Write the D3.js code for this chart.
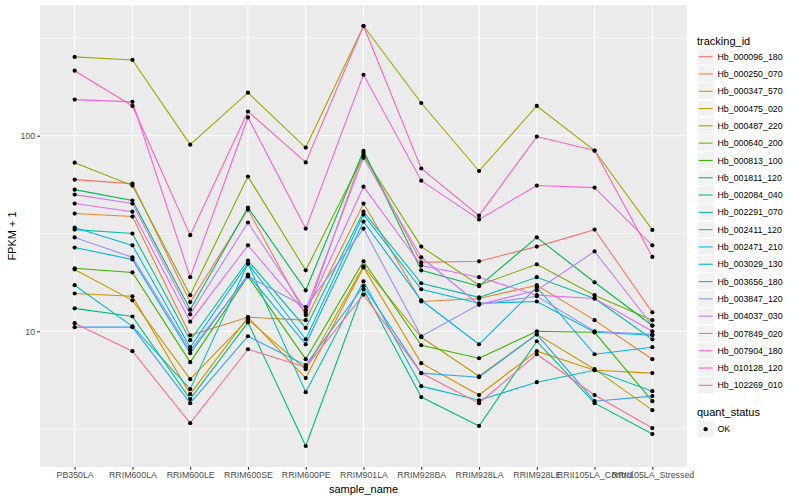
<!DOCTYPE html>
<html><head><meta charset="utf-8">
<script src="https://cdn.jsdelivr.net/npm/d3@7"></script>
<style>body{margin:0;background:#fff} text{font-family:"Liberation Sans",Arial,Helvetica,sans-serif}</style>
</head><body><svg id="c" width="800" height="500"></svg>
<script>
const categories = ["PB350LA","RRIM600LA","RRIM600LE","RRIM600SE","RRIM600PE","RRIM901LA","RRIM928BA","RRIM928LA","RRIM928LE","RRII105LA_Control","RRII105LA_Stressed"];
const trackingIds = ["Hb_000096_180","Hb_000250_070","Hb_000347_570","Hb_000475_020","Hb_000487_220","Hb_000640_200","Hb_000813_100","Hb_001811_120","Hb_002084_040","Hb_002291_070","Hb_002411_120","Hb_002471_210","Hb_003029_130","Hb_003656_180","Hb_003847_120","Hb_004037_030","Hb_007849_020","Hb_007904_180","Hb_010128_120","Hb_102269_010"];
const seriesColors = ["#F8766D","#EA8331","#D89000","#C09B00","#A3A500","#7CAE00","#39B600","#00BB4E","#00BF7D","#00C1A3","#00BFC4","#00BAE0","#00B0F6","#35A2FF","#9590FF","#C77CFF","#E76BF3","#FA62DB","#FF62BC","#FF6C91"];
const yTickValues = [10, 100];
const yTickLabels = ["10", "100"];
const yMinorValues = [Math.sqrt(10), Math.sqrt(1000), Math.sqrt(100000)];

// FPKM + 1 per sample, in category order
const Hb_000096_180 = [59.6,56.9,14.1,41.9,12.1,81.9,22.5,22.8,27.1,33.1,12.5];
const Hb_000250_070 = [40,38.6,9.54,11.8,11.4,45,14.2,14.7,17.2,11.4,7.2];
const Hb_000347_570 = [15.6,15.1,4.77,11.8,5.76,21.2,6.87,4.72,7.91,6.32,6.11];
const Hb_000475_020 = [20.7,14.4,5.69,11.5,6.4,21.5,9.32,5.89,9.65,6.4,3.95];
const Hb_000487_220 = [253,244,90,166,87,364,147,66,142,84,33];
const Hb_000640_200 = [72.8,55.6,15.3,61.8,20.5,79.1,27.1,17.2,22,15.3,11.4];
const Hb_000813_100 = [21,20,6.95,19.1,7.2,22.8,8.48,7.28,10,9.88,4.39];
const Hb_001811_120 = [53,46.6,12.9,42.9,16.2,83.8,20.5,17,30.2,17.8,10.7];
const Hb_002084_040 = [13.1,11.9,4.5,11.1,2.59,16.4,4.61,3.28,8.89,4.29,2.98];
const Hb_002291_070 = [33.1,31.6,9,23,10.4,40.9,17.6,14.9,18.9,14.7,9.1];
const Hb_002411_120 = [17.2,10.6,5.06,22.2,4.88,18,5.24,4.44,5.49,6.32,4.94];
const Hb_002471_210 = [33.9,27.5,8.29,22.2,9.1,39.5,16.4,13.9,14.2,9.88,9.54];
const Hb_003029_130 = [26.8,23.3,7.72,19.5,8.58,36.4,14.4,8.58,16.8,7.63,8.29];
const Hb_003656_180 = [10.5,10.5,4.29,9.43,6.71,17,6.11,5.82,9.65,4.39,4.66];
const Hb_003847_120 = [30.2,23.9,8,19.1,13.3,33.5,9.43,13.7,15.1,10,9.65];
const Hb_004037_030 = [50,45,12.2,36,12.8,77.2,23.9,13.7,16.2,25.6,10.7];
const Hb_007849_020 = [45,40.9,11.2,27.5,12.4,54.9,21.7,18.9,15.3,14.7,10];
const Hb_007904_180 = [153,149,18.9,124,33.5,205,58.9,37.3,55.6,54.3,27.5];
const Hb_010128_120 = [215,142,31,133,73,364,68,39,99,84,24];
const Hb_102269_010 = [11,7.91,3.39,8.09,6.55,15.4,6.11,4.29,7.63,4.72,3.2];

const seriesValues = [Hb_000096_180,Hb_000250_070,Hb_000347_570,Hb_000475_020,Hb_000487_220,Hb_000640_200,Hb_000813_100,Hb_001811_120,Hb_002084_040,Hb_002291_070,Hb_002411_120,Hb_002471_210,Hb_003029_130,Hb_003656_180,Hb_003847_120,Hb_004037_030,Hb_007849_020,Hb_007904_180,Hb_010128_120,Hb_102269_010];

const series = trackingIds.map((id,i)=>({id, color: seriesColors[i], values: seriesValues[i].map((v,j)=>({cat: categories[j], v}))}));

const svg = d3.select("#c");
const P = {l:40, r:687, t:5, b:467};

const x = d3.scalePoint().domain(categories).range([P.l, P.r]).padding(0.6);
const all = seriesValues.flat();
const lmin = Math.log10(d3.min(all)), lmax = Math.log10(d3.max(all));
const ex = (lmax - lmin) * 0.05;
const y = d3.scaleLog().domain([Math.pow(10, lmin - ex), Math.pow(10, lmax + ex)]).range([P.b, P.t]);

svg.append("rect").attr("x",P.l).attr("y",P.t).attr("width",P.r-P.l).attr("height",P.b-P.t).attr("fill","#EBEBEB");
const g = svg.append("g");
g.selectAll(".ymin").data(yMinorValues).join("line")
  .attr("x1",P.l).attr("x2",P.r).attr("y1",d=>y(d)).attr("y2",d=>y(d))
  .attr("stroke","#fff").attr("stroke-width",0.55);
g.selectAll(".ymaj").data(yTickValues).join("line")
  .attr("x1",P.l).attr("x2",P.r).attr("y1",d=>y(d)).attr("y2",d=>y(d))
  .attr("stroke","#fff").attr("stroke-width",1.1);
g.selectAll(".xmaj").data(categories).join("line")
  .attr("x1",d=>x(d)).attr("x2",d=>x(d)).attr("y1",P.t).attr("y2",P.b)
  .attr("stroke","#fff").attr("stroke-width",1.1);

svg.append("clipPath").attr("id","pc").append("rect").attr("x",P.l).attr("y",P.t).attr("width",P.r-P.l).attr("height",P.b-P.t);
const plot = svg.append("g").attr("clip-path","url(#pc)");
const line = d3.line().x(d=>x(d.cat)).y(d=>y(d.v));
plot.selectAll(".ln").data(series).join("path")
  .attr("d",d=>line(d.values)).attr("fill","none").attr("stroke",d=>d.color).attr("stroke-width",1.1);
plot.selectAll(".pts").data(series).join("g").selectAll("circle").data(d=>d.values).join("circle")
  .attr("cx",d=>x(d.cat)).attr("cy",d=>y(d.v)).attr("r",2.1).attr("fill","#000");

const xAxis = d3.axisBottom(x).tickSize(2.75).tickPadding(2.5);
const xg = svg.append("g").attr("transform",`translate(0,${P.b})`).call(xAxis);
const yAxis = d3.axisLeft(y).tickValues(yTickValues).tickFormat((d,i)=>yTickLabels[i]).tickSize(2.75).tickPadding(2.2);
const yg = svg.append("g").attr("transform",`translate(${P.l},0)`).call(yAxis);
[xg,yg].forEach(a=>{
  a.select(".domain").remove();
  a.selectAll(".tick line").attr("stroke","#333333").attr("stroke-width",1.1);
  a.selectAll(".tick text").attr("fill","#4D4D4D").attr("font-size","8.8px").attr("font-family",'"Liberation Sans",Arial,sans-serif');
});

svg.append("text").attr("x",(P.l+P.r)/2).attr("y",493).attr("text-anchor","middle").attr("font-size","11px").text("sample_name");
svg.append("text").attr("transform",`translate(16,${(P.t+P.b)/2}) rotate(-90)`).attr("text-anchor","middle").attr("font-size","11px").text("FPKM + 1");

const L = {x:697, y:48, k:17.3};
svg.append("text").attr("x",L.x).attr("y",45).attr("font-size","11px").text("tracking_id");
const lg = svg.append("g").selectAll("g").data(series).join("g").attr("transform",(d,i)=>`translate(${L.x},${L.y + i*L.k})`);
lg.append("rect").attr("width",17.3).attr("height",17.3).attr("fill","#F2F2F2").attr("stroke","#fff").attr("stroke-width",1);
lg.append("line").attr("x1",1.7).attr("x2",15.6).attr("y1",8.65).attr("y2",8.65).attr("stroke",d=>d.color).attr("stroke-width",1.1);
lg.append("text").attr("x",20.5).attr("y",11.8).attr("font-size","8.8px").attr("fill","#000").text(d=>d.id);

svg.append("text").attr("x",L.x).attr("y",416).attr("font-size","11px").text("quant_status");
const ok = svg.append("g").attr("transform",`translate(${L.x},420.5)`);
ok.append("rect").attr("width",17.3).attr("height",17.3).attr("fill","#F2F2F2").attr("stroke","#fff");
ok.append("circle").attr("cx",8.65).attr("cy",8.65).attr("r",2.1).attr("fill","#000");
ok.append("text").attr("x",20.5).attr("y",11.8).attr("font-size","8.8px").text("OK");
</script></body></html>
